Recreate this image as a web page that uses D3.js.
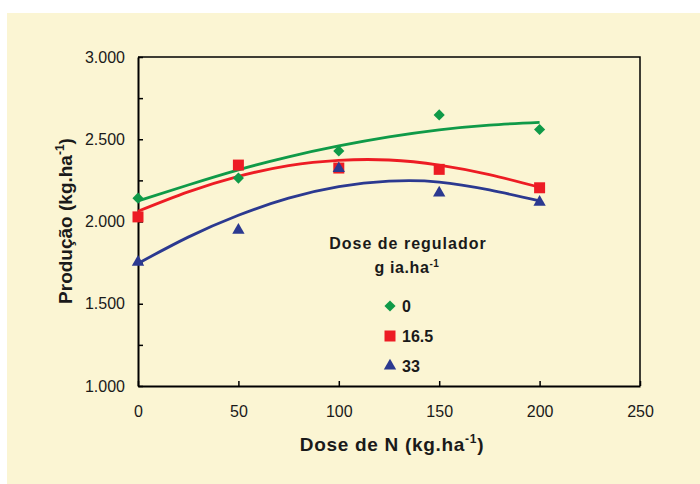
<!DOCTYPE html>
<meta charset="utf-8">
<head>
  <style>
    body { margin: 0; background: #ffffff; }
    .tick text { font-family: "Liberation Sans", Arial, sans-serif; font-size: 16px; fill: #1a1a1a; }
    .title { font-family: "Liberation Sans", Arial, sans-serif; font-weight: bold; fill: #1a1a1a; }
  </style>
  <title></title>
</head>
<body>
<div id="my_dataviz"></div>

<script src="https://d3js.org/d3.v7.min.js"></script>
<script>

// doses de N (kg/ha) and observed production for each regulator dose
var doses = [0, 50, 100, 150, 200];
var prod0 = [2142, 2264, 2429, 2648, 2559];
var prod165 = [2028, 2343, 2325, 2317, 2205];
var prod33 = [1753, 1947, 2322, 2174, 2118];

// trend lines
var trendDoses = [0, 25, 50, 75, 100, 125, 150, 175, 200];
var trend0 = [2125, 2222, 2314, 2393, 2459, 2514, 2557, 2586, 2603];
var trend165 = [2062, 2180, 2274, 2340, 2372, 2374, 2343, 2285, 2208];
var trend33 = [1745, 1905, 2038, 2142, 2212, 2245, 2240, 2192, 2126];

var seriesNames = ["0", "16.5", "33"];
var seriesColors = ["#0f9a48", "#ed1c24", "#2b3990"];

var xTicks = [0, 50, 100, 150, 200, 250];
var yTicks = [1000, 1250, 1500, 1750, 2000, 2250, 2500, 2750, 3000];

var W = 700, H = 484;
var svg = d3.select("#my_dataviz")
  .append("svg")
    .attr("width", W)
    .attr("height", H);

// cream panel
svg.append("rect")
  .attr("x", 7).attr("y", 13)
  .attr("width", W - 7).attr("height", H - 13)
  .attr("fill", "#fbf5d3");

var x = d3.scaleLinear().domain([0, 250]).range([138, 640]);
var y = d3.scaleLinear().domain([1000, 3000]).range([386, 57]);

var br = d3.formatLocale({decimal: ",", thousands: ".", grouping: [3], currency: ["R$", ""]});
var fmt = br.format(",.0f");

// Y axis
svg.append("g")
  .attr("transform", "translate(" + x(0) + ",0)")
  .call(d3.axisLeft(y)
    .tickValues(yTicks)
    .tickSizeInner(-5)
    .tickSizeOuter(0)
    .tickPadding(13)
    .tickFormat(function(d) { return d % 500 === 0 ? fmt(d) : ""; }));

// X axis
svg.append("g")
  .attr("transform", "translate(0," + y(1000) + ")")
  .call(d3.axisBottom(x)
    .tickValues(xTicks)
    .tickSizeInner(-5)
    .tickSizeOuter(0)
    .tickPadding(20));

svg.selectAll(".domain").attr("stroke", "#000").attr("stroke-width", 2);
svg.selectAll(".tick line").attr("stroke", "#000").attr("stroke-width", 1.5);

// top and right border of the plot
svg.append("path")
  .attr("d", "M" + x(0) + "," + y(3000) + "H" + x(250) + "V" + y(1000))
  .attr("fill", "none")
  .attr("stroke", "#000")
  .attr("stroke-width", 1.5);

// trend lines
var trends = [trend0, trend165, trend33];
var line = d3.line()
  .x(function(d, i) { return x(trendDoses[i]); })
  .y(function(d) { return y(d); })
  .curve(d3.curveNatural);

trends.forEach(function(t, k) {
  svg.append("path")
    .datum(t)
    .attr("d", line)
    .attr("fill", "none")
    .attr("stroke", seriesColors[k])
    .attr("stroke-width", 2.8);
});

// markers
var shapes = [
  d3.symbol().type(d3.symbolSquare).size(62),
  d3.symbol().type(d3.symbolSquare).size(121),
  d3.symbol().type(d3.symbolTriangle).size(66)
];
var rot = [45, 0, 0];
var obs = [prod0, prod165, prod33];

obs.forEach(function(vals, k) {
  svg.append("g").selectAll("path")
    .data(vals)
    .enter()
    .append("path")
      .attr("d", shapes[k])
      .attr("transform", function(d, i) {
        return "translate(" + x(doses[i]) + "," + y(d) + ") rotate(" + rot[k] + ")";
      })
      .attr("fill", seriesColors[k]);
});

// legend
svg.append("text")
  .attr("class", "title")
  .attr("x", 408).attr("y", 249)
  .attr("text-anchor", "middle")
  .style("font-size", "16px")
  .style("letter-spacing", "1px")
  .text("Dose de regulador");

var sub = svg.append("text")
  .attr("class", "title")
  .attr("x", 407).attr("y", 273)
  .attr("text-anchor", "middle")
  .style("font-size", "16px")
  .style("letter-spacing", "0.6px");
sub.append("tspan").text("g ia.ha");
sub.append("tspan").attr("dy", -6).style("font-size", "10px").text("-1");

var legY = [306, 336, 366];
seriesNames.forEach(function(n, k) {
  svg.append("path")
    .attr("d", shapes[k])
    .attr("transform", "translate(390," + legY[k] + ") rotate(" + rot[k] + ")")
    .attr("fill", seriesColors[k]);
  svg.append("text")
    .attr("class", "title")
    .attr("x", 402).attr("y", legY[k])
    .attr("dy", "0.36em")
    .style("font-size", "16px")
    .text(n);
});

// axis titles
var xt = svg.append("text")
  .attr("class", "title")
  .attr("x", 392).attr("y", 451)
  .attr("text-anchor", "middle")
  .style("font-size", "19px")
  .style("letter-spacing", "0.7px");
xt.append("tspan").text("Dose de N (kg.ha");
xt.append("tspan").attr("dy", -8).style("font-size", "12px").text("-1");
xt.append("tspan").attr("dy", 8).text(")");

var yt = svg.append("text")
  .attr("class", "title")
  .attr("transform", "translate(71.5,221) rotate(-90)")
  .attr("text-anchor", "middle")
  .style("font-size", "19px");
yt.append("tspan").text("Produção (kg.ha");
yt.append("tspan").attr("dy", -8).style("font-size", "12px").text("-1");
yt.append("tspan").attr("dy", 8).text(")");

</script>
</body>
